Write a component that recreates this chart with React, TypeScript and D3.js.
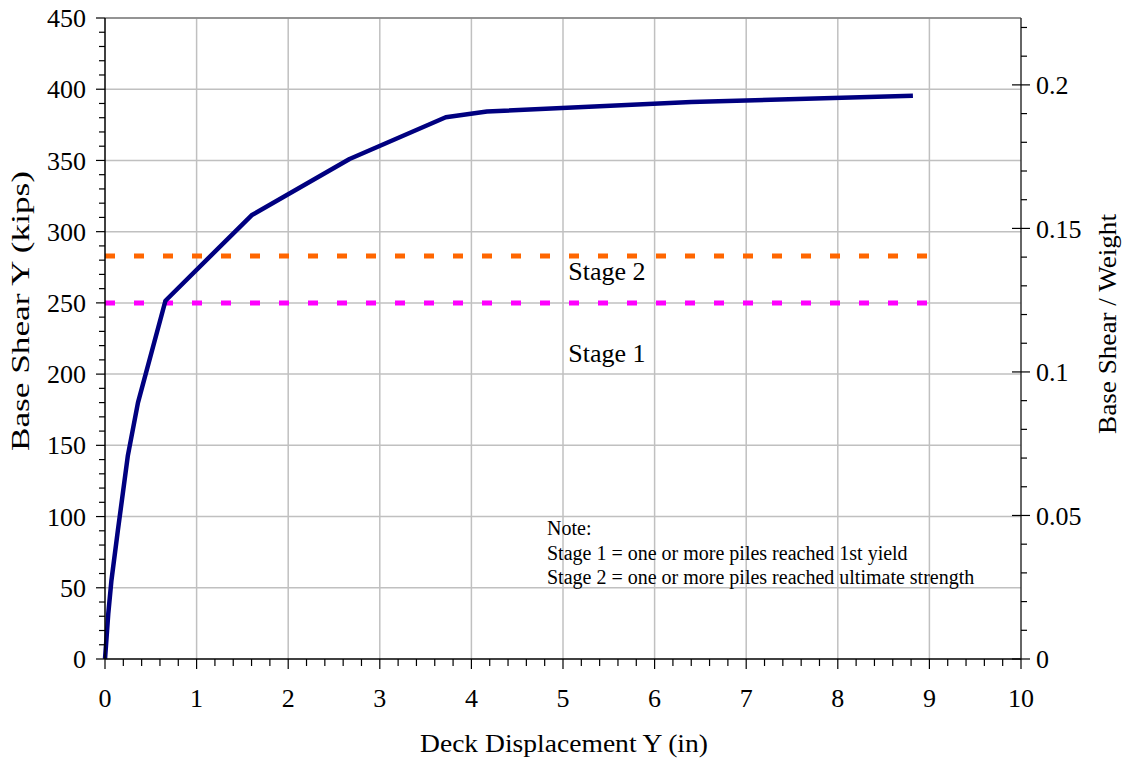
import React from "react";
import * as d3 from "d3";

const dispIn = [0, 0.036, 0.07, 0.14, 0.25, 0.36, 0.66, 1.6, 2.67, 3.72, 4.17, 6.4, 8.82];
const shearKips = [0, 32, 55, 90, 143, 180, 251.5, 311.5, 351, 380.3, 384.3, 391, 395.5];
const stage1Kips = 250;
const stage2Kips = 283;
const stageLineX = [0, 9];
const xTicks = [0, 1, 2, 3, 4, 5, 6, 7, 8, 9, 10];
const yTicks = [0, 50, 100, 150, 200, 250, 300, 350, 400, 450];
const yRightTicks = [0, 0.05, 0.1, 0.15, 0.2];
const rightMax = 0.2233;
const noteLines = [
  "Note:",
  "Stage 1 = one or more piles reached 1st yield",
  "Stage 2 = one or more piles reached ultimate strength",
];

const W = 1125, H = 762;
const L = 105, R = 1021, T = 18, B = 659;
const font = "'Liberation Serif', 'Times New Roman', serif";

export default function App() {
  const x = d3.scaleLinear().domain([0, 10]).range([L, R]);
  const y = d3.scaleLinear().domain([0, 450]).range([B, T]);
  const yr = d3.scaleLinear().domain([0, rightMax]).range([B, T]);
  const line = d3.line<number>().x((_, i) => x(dispIn[i])).y((d) => y(d));
  const minorY = d3.range(0, 451, 10);
  const minorX = d3.range(0, 10.001, 0.2);
  const minorR = d3.range(0, 0.2201, 0.01);
  const grid = "#C0C0C0";
  return (
    <div style={{ position: "absolute", left: 0, top: 0 }}>
      <svg width={W} height={H} style={{ display: "block", background: "#fff" }} fontFamily={font}>
        {/* grid */}
        {yTicks.slice(1).map((t) => (
          <line key={"gy" + t} x1={L} x2={R} y1={y(t)} y2={y(t)} stroke={grid} strokeWidth={1.5} />
        ))}
        {xTicks.slice(1, -1).map((t) => (
          <line key={"gx" + t} x1={x(t)} x2={x(t)} y1={T} y2={B} stroke={grid} strokeWidth={1.5} />
        ))}
        <line x1={L} x2={R} y1={T} y2={T} stroke="#808080" strokeWidth={1.5} />
        {/* stage lines */}
        <line x1={x(stageLineX[0])} x2={x(stageLineX[1])} y1={y(stage2Kips)} y2={y(stage2Kips)}
          stroke="#FF6600" strokeWidth={5} strokeDasharray="10 19" />
        <line x1={x(stageLineX[0])} x2={x(stageLineX[1])} y1={y(stage1Kips)} y2={y(stage1Kips)}
          stroke="#FF00FF" strokeWidth={5} strokeDasharray="10 19" />
        {/* curve */}
        <path d={line(shearKips) || ""} fill="none" stroke="#000080" strokeWidth={4.5} strokeLinejoin="round" />
        {/* axes */}
        <line x1={L} x2={L} y1={T} y2={B} stroke="#000" strokeWidth={1.5} />
        <line x1={L} x2={R} y1={B} y2={B} stroke="#000" strokeWidth={1.5} />
        <line x1={R} x2={R} y1={T} y2={B} stroke="#333" strokeWidth={1.5} />
        {minorY.map((t) => (
          <line key={"my" + t} x1={L - (t % 50 === 0 ? 9 : 6)} x2={L} y1={y(t)} y2={y(t)} stroke="#000" strokeWidth={1.2} />
        ))}
        {minorX.map((t, i) => (
          <line key={"mx" + i} x1={x(t)} x2={x(t)} y1={B} y2={B + (i % 5 === 0 ? 10 : 7)} stroke="#000" strokeWidth={1.2} />
        ))}
        {minorR.map((t, i) => (
          <line key={"mr" + i} x1={i % 5 === 0 ? R - 9 : R} x2={R + (i % 5 === 0 ? 9 : 6)} y1={yr(t)} y2={yr(t)} stroke="#000" strokeWidth={1.2} />
        ))}
        {/* tick labels */}
        {yTicks.map((t) => (
          <text key={"ly" + t} x={86} y={y(t)} dy="0.35em" textAnchor="end" fontSize={26}>{t}</text>
        ))}
        {xTicks.map((t) => (
          <text key={"lx" + t} x={x(t)} y={707} textAnchor="middle" fontSize={26}>{t}</text>
        ))}
        {yRightTicks.map((t) => (
          <text key={"lr" + t} x={1036} y={yr(t)} dy="0.35em" textAnchor="start" fontSize={26}>{String(t)}</text>
        ))}
        {/* titles */}
        <text x={564} y={752} textAnchor="middle" fontSize={26} textLength={288} lengthAdjust="spacingAndGlyphs">Deck Displacement Y (in)</text>
        <text transform={`translate(29,${311}) rotate(-90)`} textAnchor="middle" fontSize={26} textLength={280} lengthAdjust="spacingAndGlyphs">Base Shear Y (kips)</text>
        <text transform={`translate(1116,${324}) rotate(-90)`} textAnchor="middle" fontSize={26} textLength={220} lengthAdjust="spacingAndGlyphs">Base Shear / Weight</text>
        {/* stage labels */}
        <text x={607} y={280} textAnchor="middle" fontSize={26}>Stage 2</text>
        <text x={607} y={362} textAnchor="middle" fontSize={26}>Stage 1</text>
        {noteLines.map((s, i) => (
          <text key={"n" + i} x={547} y={535 + i * 24.5} fontSize={20}>{s}</text>
        ))}
      </svg>
    </div>
  );
}
